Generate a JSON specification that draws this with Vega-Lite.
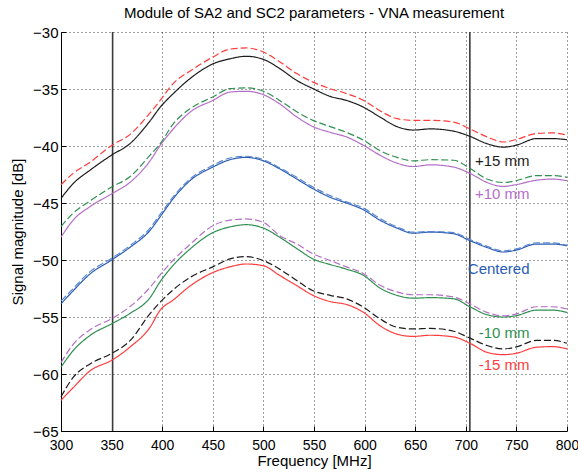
{
  "$schema": "https://vega.github.io/schema/vega-lite/v6.json",
  "autosize": "none",
  "width": 506,
  "height": 399,
  "padding": {"left": 61, "top": 32, "right": 11, "bottom": 45},
  "background": "white",
  "config": {
    "font": "Liberation Sans",
    "view": {"stroke": null},
    "axis": {
      "labelFont": "Liberation Sans",
      "titleFont": "Liberation Sans",
      "labelFontSize": 15,
      "titleFontSize": 15,
      "titleFontWeight": "normal",
      "labelColor": "#000",
      "titleColor": "#000",
      "domainColor": "#000",
      "domainWidth": 1,
      "tickColor": "#000",
      "tickSize": -5,
      "grid": true,
      "gridColor": "#000",
      "gridDash": [1, 3],
      "gridOpacity": 0.75,
      "gridWidth": 1
    },
    "title": {"font": "Liberation Sans", "fontSize": 15, "fontWeight": "normal", "color": "#000", "offset": 4}
  },
  "title": {"text": "Module of SA2 and SC2 parameters - VNA measurement", "anchor": "middle"},
  "datasets": {
    "curves": [
      {"f": 300, "p15s": -44.6, "p15d": -43.4, "p10s": -48.0, "p10d": -47.06, "c0s": -53.85, "c0d": -53.6, "m10s": -59.4, "m10d": -59.0, "m15s": -62.3, "m15d": -62.0},
      {"f": 312, "p15s": -43.3, "p15d": -42.4, "p10s": -46.5, "p10d": -45.9, "c0s": -52.7, "c0d": -52.5, "m10s": -57.95, "m10d": -57.4, "m15s": -61.2, "m15d": -60.3},
      {"f": 329, "p15s": -42.1, "p15d": -41.4, "p10s": -45.3, "p10d": -44.8, "c0s": -51.2, "c0d": -51.0, "m10s": -56.6, "m10d": -56.1, "m15s": -59.7, "m15d": -59.1},
      {"f": 350, "p15s": -40.8, "p15d": -39.95, "p10s": -44.2, "p10d": -43.6, "c0s": -50.0, "c0d": -49.85, "m10s": -55.6, "m10d": -55.15, "m15s": -58.8, "m15d": -58.2},
      {"f": 368, "p15s": -39.8, "p15d": -39.0, "p10s": -43.2, "p10d": -42.7, "c0s": -48.9, "c0d": -48.75, "m10s": -54.7, "m10d": -54.1, "m15s": -57.65, "m15d": -57.1},
      {"f": 388, "p15s": -37.8, "p15d": -37.1, "p10s": -41.3, "p10d": -40.8, "c0s": -47.4, "c0d": -47.2, "m10s": -53.3, "m10d": -52.4, "m15s": -55.9, "m15d": -54.7},
      {"f": 398, "p15s": -36.6, "p15d": -36.0, "p10s": -39.95, "p10d": -39.8, "c0s": -46.2, "c0d": -46.0, "m10s": -51.9, "m10d": -51.3, "m15s": -54.4, "m15d": -53.7},
      {"f": 411, "p15s": -35.4, "p15d": -34.5, "p10s": -38.5, "p10d": -38.05, "c0s": -44.6, "c0d": -44.45, "m10s": -50.45, "m10d": -50.0, "m15s": -53.5, "m15d": -52.6},
      {"f": 428, "p15s": -34.05, "p15d": -33.4, "p10s": -37.0, "p10d": -36.7, "c0s": -43.0, "c0d": -42.85, "m10s": -49.0, "m10d": -48.6, "m15s": -52.25, "m15d": -51.5},
      {"f": 450, "p15s": -32.8, "p15d": -32.2, "p10s": -36.0, "p10d": -35.7, "c0s": -41.85, "c0d": -41.7, "m10s": -47.6, "m10d": -47.0, "m15s": -51.1, "m15d": -50.6},
      {"f": 467, "p15s": -32.35, "p15d": -31.5, "p10s": -35.27, "p10d": -34.97, "c0s": -41.2, "c0d": -41.05, "m10s": -47.1, "m10d": -46.5, "m15s": -50.6, "m15d": -49.9},
      {"f": 483, "p15s": -32.13, "p15d": -31.4, "p10s": -35.2, "p10d": -34.9, "c0s": -41.0, "c0d": -40.9, "m10s": -46.9, "m10d": -46.4, "m15s": -50.35, "m15d": -49.7},
      {"f": 500, "p15s": -32.4, "p15d": -31.75, "p10s": -35.5, "p10d": -35.2, "c0s": -41.3, "c0d": -41.2, "m10s": -47.2, "m10d": -46.7, "m15s": -50.5, "m15d": -50.05},
      {"f": 516, "p15s": -33.2, "p15d": -32.6, "p10s": -36.3, "p10d": -36.0, "c0s": -42.0, "c0d": -41.9, "m10s": -48.0, "m10d": -47.85, "m15s": -51.35, "m15d": -50.8},
      {"f": 533, "p15s": -34.25, "p15d": -33.65, "p10s": -37.45, "p10d": -37.0, "c0s": -42.9, "c0d": -42.75, "m10s": -49.0, "m10d": -48.6, "m15s": -52.25, "m15d": -51.8},
      {"f": 549, "p15s": -34.97, "p15d": -34.4, "p10s": -38.3, "p10d": -37.75, "c0s": -43.75, "c0d": -43.6, "m10s": -49.9, "m10d": -49.45, "m15s": -53.1, "m15d": -52.7},
      {"f": 566, "p15s": -35.65, "p15d": -34.97, "p10s": -38.8, "p10d": -38.3, "c0s": -44.5, "c0d": -44.35, "m10s": -50.4, "m10d": -50.05, "m15s": -53.65, "m15d": -53.1},
      {"f": 582, "p15s": -36.0, "p15d": -35.4, "p10s": -39.2, "p10d": -38.8, "c0s": -45.0, "c0d": -44.9, "m10s": -50.8, "m10d": -50.6, "m15s": -53.9, "m15d": -53.4},
      {"f": 599, "p15s": -36.6, "p15d": -36.0, "p10s": -39.95, "p10d": -39.5, "c0s": -45.6, "c0d": -45.45, "m10s": -51.35, "m10d": -51.2, "m15s": -54.6, "m15d": -54.15},
      {"f": 615, "p15s": -37.45, "p15d": -36.9, "p10s": -40.8, "p10d": -40.4, "c0s": -46.5, "c0d": -46.35, "m10s": -52.45, "m10d": -52.2, "m15s": -55.75, "m15d": -55.15},
      {"f": 632, "p15s": -38.3, "p15d": -37.6, "p10s": -41.5, "p10d": -41.0, "c0s": -47.2, "c0d": -47.1, "m10s": -53.1, "m10d": -52.8, "m15s": -56.5, "m15d": -55.9},
      {"f": 648, "p15s": -38.6, "p15d": -37.75, "p10s": -41.8, "p10d": -41.3, "c0s": -47.65, "c0d": -47.55, "m10s": -53.35, "m10d": -53.05, "m15s": -56.7, "m15d": -56.05},
      {"f": 665, "p15s": -38.5, "p15d": -37.75, "p10s": -41.65, "p10d": -41.2, "c0s": -47.55, "c0d": -47.5, "m10s": -53.3, "m10d": -53.05, "m15s": -56.6, "m15d": -56.0},
      {"f": 688, "p15s": -38.7, "p15d": -37.9, "p10s": -41.85, "p10d": -41.25, "c0s": -47.7, "c0d": -47.6, "m10s": -53.4, "m10d": -53.25, "m15s": -56.75, "m15d": -56.25},
      {"f": 704, "p15s": -39.15, "p15d": -38.5, "p10s": -42.4, "p10d": -41.95, "c0s": -48.3, "c0d": -48.2, "m10s": -54.1, "m10d": -53.85, "m15s": -57.3, "m15d": -56.85},
      {"f": 721, "p15s": -39.8, "p15d": -39.2, "p10s": -43.2, "p10d": -42.9, "c0s": -48.9, "c0d": -48.8, "m10s": -54.8, "m10d": -54.6, "m15s": -58.1, "m15d": -57.5},
      {"f": 737, "p15s": -40.1, "p15d": -39.65, "p10s": -43.55, "p10d": -43.2, "c0s": -49.3, "c0d": -49.2, "m10s": -55.0, "m10d": -54.9, "m15s": -58.3, "m15d": -57.8},
      {"f": 749, "p15s": -39.95, "p15d": -39.45, "p10s": -43.4, "p10d": -43.05, "c0s": -49.15, "c0d": -49.05, "m10s": -54.9, "m10d": -54.75, "m15s": -58.2, "m15d": -57.65},
      {"f": 770, "p15s": -39.35, "p15d": -38.9, "p10s": -43.0, "p10d": -42.6, "c0s": -48.6, "c0d": -48.5, "m10s": -54.4, "m10d": -54.1, "m15s": -57.65, "m15d": -57.05},
      {"f": 786, "p15s": -39.35, "p15d": -38.85, "p10s": -42.9, "p10d": -42.6, "c0s": -48.6, "c0d": -48.5, "m10s": -54.4, "m10d": -54.1, "m15s": -57.6, "m15d": -57.05},
      {"f": 800, "p15s": -39.45, "p15d": -39.05, "p10s": -43.05, "p10d": -42.75, "c0s": -48.75, "c0d": -48.7, "m10s": -54.6, "m10d": -54.3, "m15s": -57.8, "m15d": -57.3}
    ],
    "markers": [{"f": 351}, {"f": 704}],
    "labels": [
      {"series": "p15s", "label": "+15 mm", "f": 763, "db": -41.3},
      {"series": "p10s", "label": "+10 mm", "f": 763, "db": -44.2},
      {"series": "c0s", "label": "Centered", "f": 763, "db": -50.75},
      {"series": "m10s", "label": "-10 mm", "f": 763, "db": -56.4},
      {"series": "m15s", "label": "-15 mm", "f": 763, "db": -59.2}
    ]
  },
  "layer": [
    {
      "data": {"name": "markers"},
      "mark": {"type": "rule", "color": "#3a3a3a", "strokeWidth": 1.6},
      "encoding": {
        "x": {"field": "f", "type": "quantitative", "scale": {"domain": [300, 800], "nice": false, "zero": false}}
      }
    },
    {
      "data": {"name": "curves"},
      "transform": [
        {"fold": ["m15s", "m15d", "m10s", "m10d", "c0s", "c0d", "p10s", "p10d", "p15s", "p15d"], "as": ["series", "db"]}
      ],
      "mark": {"type": "line", "strokeWidth": 1.2, "interpolate": "monotone"},
      "encoding": {
        "x": {"field": "f", "type": "quantitative"},
        "y": {"field": "db", "type": "quantitative"},
        "detail": {"field": "series"},
        "color": {"field": "series", "type": "nominal", "legend": null},
        "strokeDash": {
          "field": "series", "type": "nominal", "legend": null,
          "scale": {
            "domain": ["p15s", "p15d", "p10s", "p10d", "c0s", "c0d", "m10s", "m10d", "m15s", "m15d"],
            "range": [[1, 0], [7, 3], [1, 0], [7, 3], [1, 0], [7, 3], [1, 0], [7, 3], [1, 0], [7, 3]]
          }
        }
      }
    },
    {
      "data": {"name": "labels"},
      "mark": {"type": "text", "align": "right", "baseline": "middle", "fontSize": 15, "font": "Liberation Sans"},
      "encoding": {
        "x": {"field": "f", "type": "quantitative"},
        "y": {"field": "db", "type": "quantitative"},
        "text": {"field": "label"},
        "color": {"field": "series", "type": "nominal", "legend": null}
      }
    }
  ],
  "resolve": {"scale": {"color": "shared"}},
  "encoding": {
    "x": {
      "type": "quantitative",
      "scale": {"domain": [300, 800], "nice": false, "zero": false},
      "axis": {"title": "Frequency [MHz]", "values": [300, 350, 400, 450, 500, 550, 600, 650, 700, 750, 800], "labelFontSize": 14, "labelPadding": 12, "titlePadding": 1, "labelFlush": false}
    },
    "y": {
      "type": "quantitative",
      "scale": {"domain": [-65, -30], "nice": false, "zero": false},
      "axis": {"title": "Signal magnitude [dB]", "values": [-65, -60, -55, -50, -45, -40, -35, -30], "labelPadding": 8, "titlePadding": 7, "labelFlush": false}
    },
    "color": {
      "type": "nominal",
      "scale": {
        "domain": ["p15s", "p15d", "p10s", "p10d", "c0s", "c0d", "m10s", "m10d", "m15s", "m15d"],
        "range": ["#1c1c1c", "#ff3c3c", "#b46ec8", "#2e9050", "#2a5cb4", "#5a88d0", "#2e9050", "#b46ec8", "#ff3c3c", "#1c1c1c"]
      }
    }
  }
}
